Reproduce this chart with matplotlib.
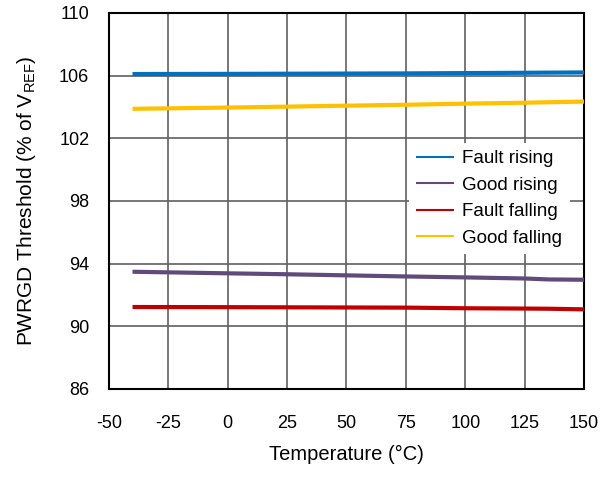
import numpy as np
import matplotlib.pyplot as plt

plt.rcParams['font.family'] = ['Liberation Sans', 'DejaVu Sans']
plt.rcParams['axes.unicode_minus'] = False

# PWRGD thresholds vs temperature
temp = [-40, 0, 25, 50, 75, 100, 125, 135, 150]
fault_rising = [106.10, 106.11, 106.12, 106.13, 106.14, 106.16, 106.18, 106.19, 106.20]
good_rising = [93.48, 93.38, 93.32, 93.25, 93.18, 93.12, 93.05, 92.99, 92.97]
fault_falling = [91.23, 91.22, 91.21, 91.20, 91.19, 91.15, 91.13, 91.12, 91.08]
good_falling = [103.88, 103.96, 104.02, 104.08, 104.14, 104.21, 104.27, 104.30, 104.34]

series = [
    ('Fault rising', fault_rising, '#0070C0'),
    ('Good rising', good_rising, '#604A7B'),
    ('Fault falling', fault_falling, '#C00000'),
    ('Good falling', good_falling, '#FFC000'),
]

fig = plt.figure(figsize=(6.11, 4.79), dpi=100)
ax = fig.add_axes([0.178, 0.188, 0.778, 0.785])

for name, vals, col in series:
    ax.plot(temp, vals, color=col, lw=3, label=name, solid_capstyle='butt', zorder=3)

ax.set_xlim(-50, 150)
ax.set_ylim(86, 110)
ax.set_xticks(np.arange(-50, 151, 25))
ax.set_yticks(np.arange(86, 111, 4))
ax.grid(True, color='#606060', lw=1.2)
ax.tick_params(length=0, labelsize=13)
ax.tick_params(axis='x', pad=19)
ax.tick_params(axis='y', pad=14)
for s in ax.spines.values():
    s.set_linewidth(1.5)
    s.set_color('black')

ax.set_xlabel('Temperature (\u00b0C)', fontsize=14.5, labelpad=9)
ax.set_ylabel('PWRGD Threshold (% of V$_{\\mathregular{REF}}$)', fontsize=15, labelpad=15)

leg = ax.legend(loc='upper right', bbox_to_anchor=(0.97, 0.655), frameon=True, fontsize=13.5,
                handlelength=2.0, handletextpad=0.45, labelspacing=0.5,
                borderaxespad=0, borderpad=0.4, fancybox=False)
leg.get_frame().set_facecolor('white')
leg.get_frame().set_edgecolor('none')
leg.get_frame().set_alpha(1)
for h in leg.get_lines():
    h.set_linewidth(1.5)

fig.savefig('out.png', dpi=100)
